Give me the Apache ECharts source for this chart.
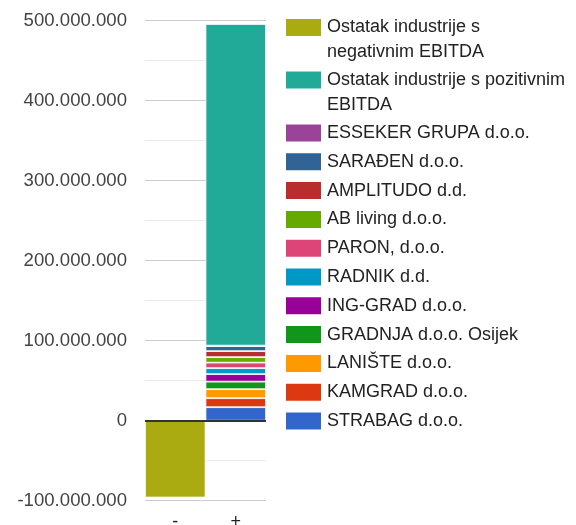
<!DOCTYPE html>
<html>
<head>
  <meta charset="utf-8">
  <title>EBITDA</title>
  <script src="https://cdn.jsdelivr.net/npm/echarts@6/dist/echarts.min.js"></script>
  <style>
    body { margin: 0; background: #fff; }
    #chart { width: 576px; height: 525px; }
  </style>
</head>
<body>
  <div id="chart"></div>
  <script>
    const categories = ['-', '+'];

    // firme, odozdo prema gore u stupcu "+"
    const firme = ['STRABAG d.o.o.', 'KAMGRAD d.o.o.', 'LANIŠTE d.o.o.', 'GRADNJA d.o.o. Osijek',
      'ING-GRAD d.o.o.', 'RADNIK d.d.', 'PARON, d.o.o.', 'AB living d.o.o.', 'AMPLITUDO d.d.',
      'SARAĐEN d.o.o.', 'ESSEKER GRUPA d.o.o.'];
    const firmeEbitda = [16900000, 11250000, 11250000, 9400000, 9400000, 7500000,
      6900000, 6900000, 7500000, 6250000, 600000];
    const firmeBoje = ['#3366cc', '#dc3912', '#ff9900', '#109618', '#990099', '#0099c6',
      '#dd4477', '#66aa00', '#b82e2e', '#316395', '#994499'];

    const ostatakPoz = 'Ostatak industrije s pozitivnim EBITDA';
    const ostatakPozVrijednost = 402000000;
    const ostatakNeg = 'Ostatak industrije s negativnim EBITDA';
    const ostatakNegVrijednost = -96000000;

    const yTicks = { min: -100000000, max: 500000000, interval: 100000000 };

    const font = 'Liberation Sans, Arial, sans-serif';

    function fmt(v) {
      const neg = v < 0;
      const s = String(Math.abs(v)).replace(/\B(?=(\d{3})+(?!\d))/g, '.');
      return (neg ? '-' : '') + s;
    }

    const barStyle = { borderColor: '#fff', borderWidth: 0.8 };

    const series = [];
    firme.forEach((ime, i) => {
      series.push({
        name: ime, type: 'bar', stack: 'uk',
        data: ['-', firmeEbitda[i]],
        itemStyle: Object.assign({ color: firmeBoje[i] }, barStyle),
        barCategoryGap: '0%'
      });
    });
    series.push({
      name: ostatakPoz, type: 'bar', stack: 'uk',
      data: ['-', ostatakPozVrijednost],
      itemStyle: Object.assign({ color: '#22aa99' }, barStyle)
    });
    series.push({
      name: ostatakNeg, type: 'bar', stack: 'uk',
      data: [ostatakNegVrijednost, '-'],
      itemStyle: Object.assign({ color: '#aaaa11' }, barStyle),
      // nulta linija
      markLine: {
        silent: true, symbol: 'none', animation: false,
        label: { show: false },
        lineStyle: { color: '#333', width: 2, type: 'solid' },
        data: [{ yAxis: 0 }]
      }
    });

    // dvoredni nazivi: prazan red na vrhu da kvadratić stoji uz prvi red
    function wrap(name) {
      if (name === ostatakNeg) return '\nOstatak industrije s\nnegativnim EBITDA';
      if (name === ostatakPoz) return '\nOstatak industrije s pozitivnim\nEBITDA';
      return name;
    }

    const legendBase = {
      orient: 'vertical', left: 279, padding: 5,
      itemWidth: 37, itemHeight: 19,
      icon: 'rect',
      selectedMode: false,
      textStyle: { fontFamily: font, fontSize: 18, color: '#222', lineHeight: 25 },
      formatter: wrap
    };

    const chart = echarts.init(document.getElementById('chart'));
    chart.setOption({
      animation: false,
      grid: { left: 145, right: 310, top: 20.7, bottom: 24.3, outerBoundsMode: 'none', containLabel: false },
      legend: [
        Object.assign({}, legendBase, { top: -15, itemGap: -22.5, data: [ostatakNeg, ostatakPoz] }),
        Object.assign({}, legendBase, { top: 115.5, itemGap: 3.8, data: firme.slice().reverse() })
      ],
      xAxis: {
        type: 'category', data: categories,
        axisLine: { show: false, onZero: false },
        axisTick: { show: false },
        axisLabel: { fontFamily: font, fontSize: 18, color: '#222', margin: 12 }
      },
      yAxis: {
        type: 'value', min: yTicks.min, max: yTicks.max, interval: yTicks.interval,
        axisLine: { show: false }, axisTick: { show: false },
        axisLabel: { fontFamily: font, fontSize: 18.6, color: '#444', margin: 18, padding: [0, 0, 4, 0], formatter: fmt },
        splitLine: { lineStyle: { color: '#ccc', width: 1 } },
        minorTick: { show: false, splitNumber: 2 },
        minorSplitLine: { show: true, lineStyle: { color: '#ebebeb', width: 1 } }
      },
      series: series
    });
  </script>
</body>
</html>
